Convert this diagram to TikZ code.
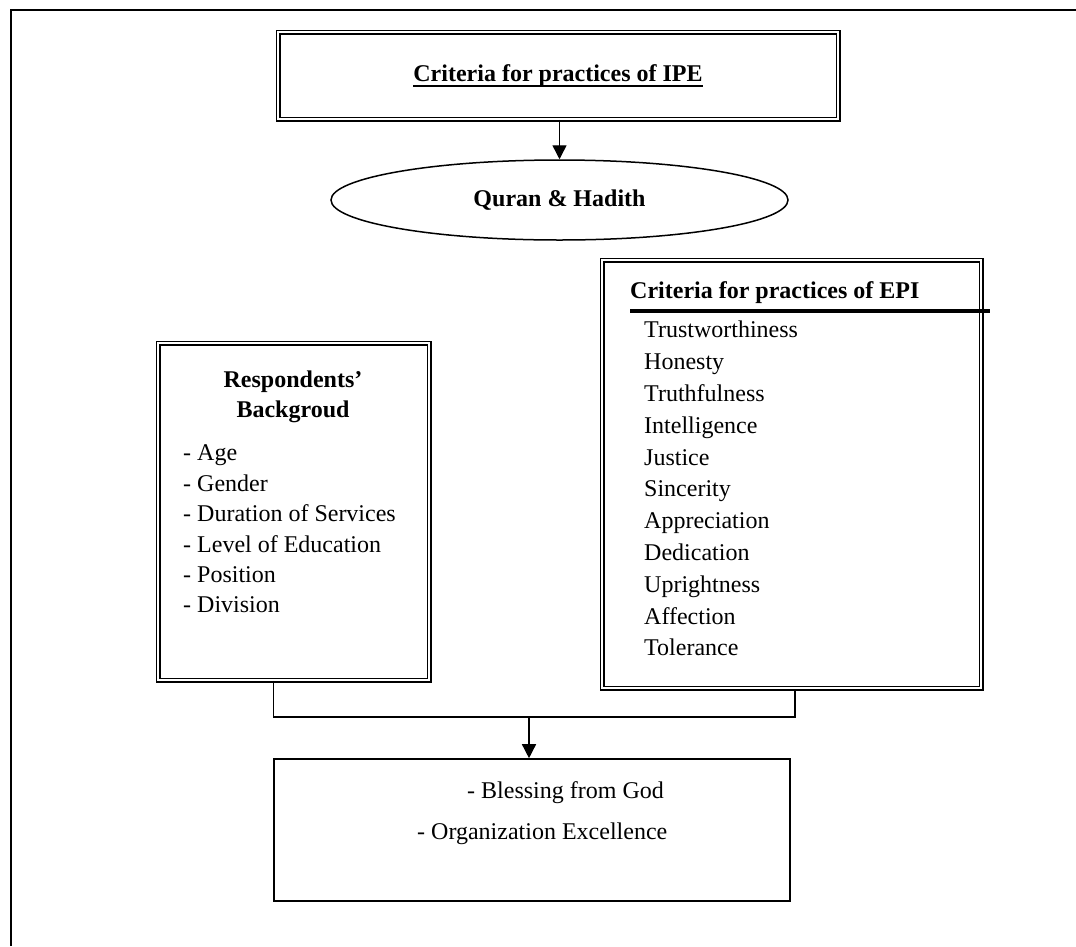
\documentclass[tikz,border=0pt]{standalone}
\usepackage{fontspec}
\setmainfont{Liberation Serif}
\usetikzlibrary{arrows.meta, positioning, calc, shapes.geometric}

\tikzset{
  dbox/.style={draw, double, double distance=1.8pt, line width=1.6pt, inner sep=0pt},
  sbox/.style={draw, line width=1.6pt, inner sep=0pt},
  txt/.style={font=\fontsize{24}{30}\selectfont, inner sep=0pt, text height=17pt, text depth=5pt},
  btxt/.style={font=\fontsize{24}{30}\selectfont\bfseries, inner sep=0pt},
  link/.style={line width=1.4pt},
  tip/.style={link, -{Triangle[length=14pt,width=14pt]}}
}

\begin{document}
\begin{tikzpicture}[x=1pt,y=-1pt]
\useasboundingbox (0,0) rectangle (1076,946);
% outer frame, only top and left edges visible
\draw[line width=2pt] (11,946) -- (11,10) -- (1076,10);

% top part
\node[dbox, minimum width=560pt, minimum height=87pt] (ipe) at (558,75.5) {};
\node[btxt] (ipetitle) at (ipe.center) {Criteria for practices of IPE};
\draw[line width=2.2pt] ($(ipetitle.base west)+(0,4.5)$) -- ($(ipetitle.base east)+(0,4.5)$);
\node[ellipse, draw, line width=1.5pt, minimum width=457pt, minimum height=80pt, btxt] (quran) at (559.5,200) {Quran \& Hadith};
\draw[tip] (ipe.south -| quran.north) -- (quran.north);

% right box
\node[dbox, minimum width=379pt, minimum height=428pt] (epi) at (791.5,474) {};
\node[btxt, anchor=west] (epihead) at (630,293) {Criteria for practices of EPI};
\draw[line width=4pt] (epihead.west |- 0,311) -- (990,311);
\foreach \i/\t in {1/Trustworthiness, 2/Honesty, 3/Truthfulness, 4/Intelligence,
  5/Justice, 6/Sincerity, 7/Appreciation, 8/Dedication, 9/Uprightness,
  10/Affection, 11/Tolerance}
  \node[txt, anchor=west] (epi\i) at (644,{300+31.8*\i}) {\t};

% left box
\node[dbox, minimum width=271pt, minimum height=337pt] (resp) at (293.5,511.5) {};
\node[btxt, align=center] (resphead) at (293,397) {Respondents'\\Backgroud};
\foreach \i/\t in {1/Age, 2/Gender, 3/Duration of Services, 4/Level of Education,
  5/Position, 6/Division}
  \node[txt, anchor=west] (resp\i) at (183,{424.5+30.4*\i}) {- \t};

% bottom box
\node[sbox, minimum width=516pt, minimum height=142pt] (result) at (532,830) {};
\node[txt, anchor=west] (bless) at (467,792) {- Blessing from God};
\node[txt, anchor=west] (excel) at (417,833) {- Organization Excellence};

% connectors
\coordinate (join) at (529,717);
\draw[link] (resp.south -| result.west) |- (join) -| ($(epi.south)+(3.5,0)$);
\draw[tip] (join) -- (join |- result.north);
\end{tikzpicture}
\end{document}
